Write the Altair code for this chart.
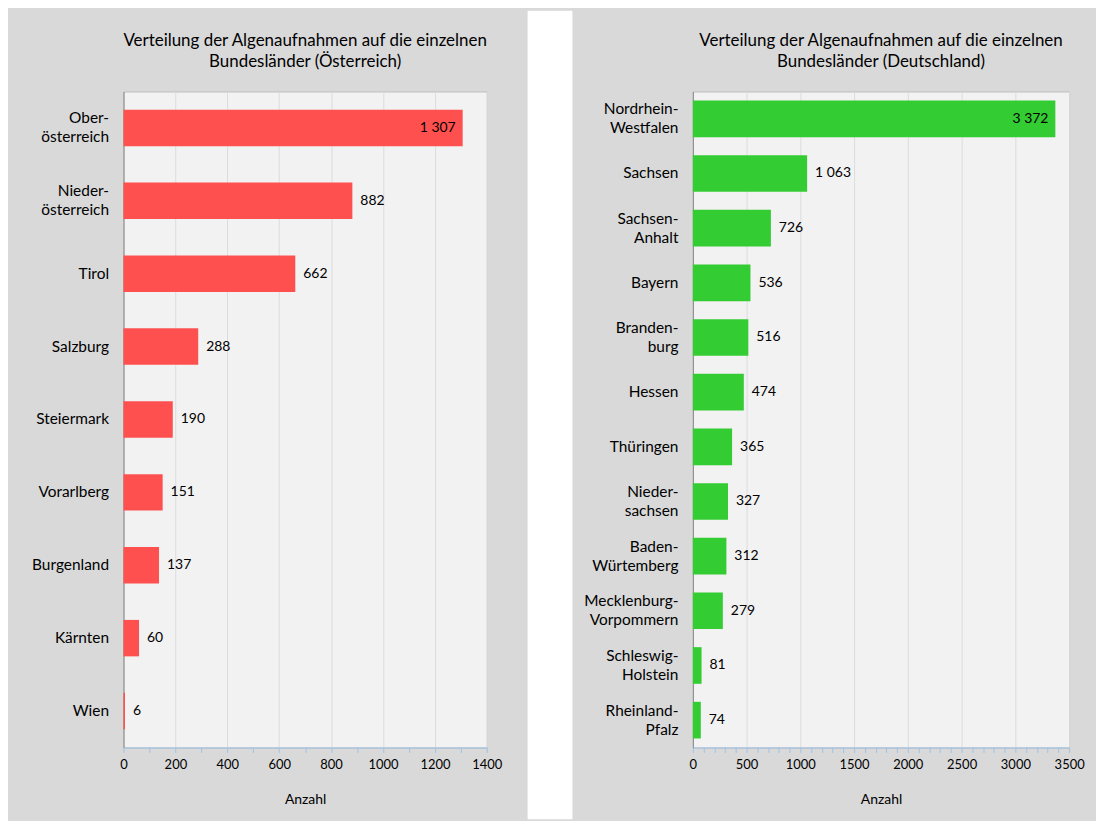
import altair as alt
import pandas as pd

FONT = "Lato"

at_names = ["Ober-|österreich", "Nieder-|österreich", "Tirol", "Salzburg", "Steiermark",
            "Vorarlberg", "Burgenland", "Kärnten", "Wien"]
at_values = [1307, 882, 662, 288, 190, 151, 137, 60, 6]
at_title = ["Verteilung der Algenaufnahmen auf die einzelnen", "Bundesländer (Österreich)"]
at_ticks = list(range(0, 1401, 100))

de_names = ["Nordrhein-|Westfalen", "Sachsen", "Sachsen-|Anhalt", "Bayern", "Branden-|burg",
            "Hessen", "Thüringen", "Nieder-|sachsen", "Baden-|Würtemberg",
            "Mecklenburg-|Vorpommern", "Schleswig-|Holstein", "Rheinland-|Pfalz"]
de_values = [3372, 1063, 726, 536, 516, 474, 365, 327, 312, 279, 81, 74]
de_title = ["Verteilung der Algenaufnahmen auf die einzelnen", "Bundesländer (Deutschland)"]
de_ticks = list(range(0, 3501, 100))

H = 659


def panel(names, values, color, title, ticks, major, W, pad_inner, left_ext, right_ext, gap=None):
    df = pd.DataFrame({
        "name": names,
        "value": values,
        "label": [f"{v:,}".replace(",", " ") for v in values],
    })
    vmax = max(values)
    x = alt.X("value:Q",
              scale=alt.Scale(domain=[ticks[0], ticks[-1]], nice=False, zero=True),
              axis=alt.Axis(
                  values=ticks, tickCount=200, format="d",
                  labelExpr=f"datum.value % {major} === 0 ? datum.label : ''",
                  gridOpacity={"condition": {"test": f"datum.value % {major} === 0", "value": 1}, "value": 0},
                  grid=True, gridColor="#dcdcdc",
                  domainColor="#9dc3e6", tickColor="#9dc3e6", tickSize=5,
                  labelFlush=False, labelOverlap=False, labelPadding=6,
                  labelFont=FONT, labelFontSize=13, labelColor="#000000",
                  title="Anzahl", titleFont=FONT, titleFontSize=14, titleFontWeight="normal",
                  titleColor="#000000", titlePadding=21))
    y = alt.Y("name:N", sort=names,
              scale=alt.Scale(paddingInner=pad_inner, paddingOuter=pad_inner / 2),
              axis=alt.Axis(title=None, ticks=False, domainColor="#868686",
                            labelExpr="split(datum.label, '|')", labelAlign="right",
                            labelOffset={"condition": {"test": "indexof(datum.value, '|') >= 0",
                                                       "value": -9.5}, "value": 0},
                            labelPadding=15, labelFont=FONT, labelFontSize=15.5,
                            labelLineHeight=19, labelColor="#000000", labelLimit=200))
    base = alt.Chart(df)
    bars = base.mark_bar(color=color).encode(x=x, y=y)
    inside = base.transform_filter(f"datum.value === {vmax}").mark_text(
        align="right", baseline="middle", dx=-7, font=FONT, fontSize=14, color="#000000"
    ).encode(x="value:Q", y=alt.Y("name:N", sort=names), text="label:N")
    outside = base.transform_filter(f"datum.value !== {vmax}").mark_text(
        align="left", baseline="middle", dx=8, font=FONT, fontSize=14, color="#000000"
    ).encode(x="value:Q", y=alt.Y("name:N", sort=names), text="label:N")
    one = pd.DataFrame({"a": [0]})
    frame = alt.Chart(one).mark_rect(opacity=0).encode(
        x=alt.value(left_ext), x2=alt.value(W + right_ext),
        y=alt.value(-81), y2=alt.value(H + 72))
    heading = alt.Chart(one).mark_text(
        text=title, font=FONT, fontSize=17, color="#000000", align="center",
        baseline="top", lineHeight=21
    ).encode(x=alt.value(W / 2), y=alt.value(-59))
    layers = [frame, bars, inside, outside, heading]
    if gap is not None:
        layers.append(alt.Chart(one).mark_rect(color="#ffffff").encode(
            x=alt.value(gap[0]), x2=alt.value(gap[1]),
            y=alt.value(-81), y2=alt.value(H + 72)))
    return alt.layer(*layers).properties(width=W, height=H)


left = panel(at_names, at_values, "#ff5050", at_title, at_ticks, 200, 365, 0.5, -115, 39)
right = panel(de_names, de_values, "#33cc33", de_title, de_ticks, 500, 378, 0.33, -166, 26,
              gap=(-166, -121))

chart = alt.hconcat(left, right, spacing=0).configure(
    background="#d9d9d9", padding=0
).configure_view(fill="#f2f2f2", stroke="#bfbfbf")

chart.save("out.html", embed_options={"renderer": "svg", "actions": False})
